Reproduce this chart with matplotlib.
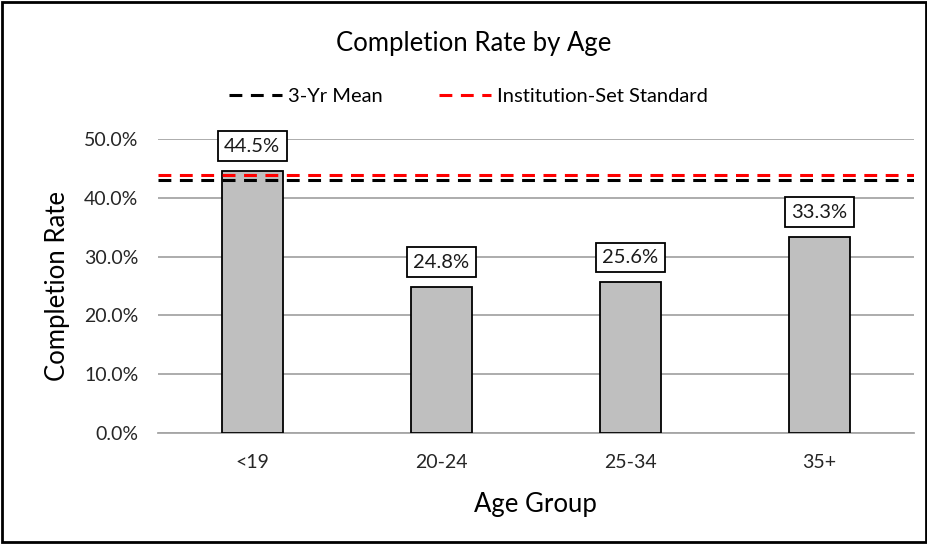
import matplotlib
matplotlib.use('Agg')
import matplotlib.pyplot as plt
from matplotlib.patches import Rectangle
from matplotlib.ticker import FuncFormatter

plt.rcParams['font.family'] = ['Lato', 'DejaVu Sans']

# data
age_groups = ['<19', '20-24', '25-34', '35+']
completion = [0.445, 0.248, 0.256, 0.333]
mean_3yr = 0.430
inst_standard = 0.438

fig = plt.figure(figsize=(9.28, 5.44), dpi=100)
ax = fig.add_axes([0.170, 0.204, 0.815, 0.5405])

x = range(len(age_groups))
bars = ax.bar(x, completion, width=0.32, color='#bfbfbf', edgecolor='black', linewidth=1.3, zorder=3)

dash = (0, (4.2, 2.8))
ax.axhline(mean_3yr, color='black', linestyle=dash, linewidth=2.2, zorder=4, label='3-Yr Mean')
ax.axhline(inst_standard, color='#ff0000', linestyle=dash, linewidth=2.2, zorder=4, label='Institution-Set Standard')

# value labels in white boxes above each bar
for xi, v in zip(x, completion):
    ax.annotate(f'{v*100:.1f}%', (xi, v), xytext=(0, 18), textcoords='offset points',
                ha='center', va='center', fontsize=14.5, color='#1a1a1a', zorder=5,
                bbox=dict(boxstyle='square,pad=0.32', fc='white', ec='black', lw=1.3))

ax.set_xlim(-0.5, len(age_groups) - 0.5)
ax.set_ylim(0, 0.5)
ax.set_yticks([0, 0.1, 0.2, 0.3, 0.4, 0.5])
ax.yaxis.set_major_formatter(FuncFormatter(lambda v, p: f'{v*100:.1f}%'))
ax.set_xticks(list(x))
ax.set_xticklabels(age_groups)
ax.tick_params(axis='both', length=0, labelsize=14, colors='#262626')
ax.tick_params(axis='x', pad=15)
ax.tick_params(axis='y', pad=14)
ax.grid(axis='y', color='#a6a6a6', linewidth=1.3, zorder=0)
for s in ['top', 'right', 'left']:
    ax.spines[s].set_visible(False)
ax.spines['bottom'].set_color('#a6a6a6')
ax.spines['bottom'].set_linewidth(1.3)

ax.set_xlabel('Age Group', fontsize=18.5, labelpad=15)
ax.set_ylabel('Completion Rate', fontsize=18.5, labelpad=10)

fig.text(0.51, 0.92, 'Completion Rate by Age', ha='center', va='center', fontsize=18.5)
fig.legend(loc='center', bbox_to_anchor=(0.505, 0.822), ncol=2, frameon=False,
           fontsize=14.5, handlelength=2.6, columnspacing=2.8, handletextpad=0.3)

# outer border
fig.patches.append(Rectangle((0.002, 0.003), 0.996, 0.994, transform=fig.transFigure,
                             fill=False, edgecolor='black', linewidth=2))

plt.savefig('out.png', dpi=100)
